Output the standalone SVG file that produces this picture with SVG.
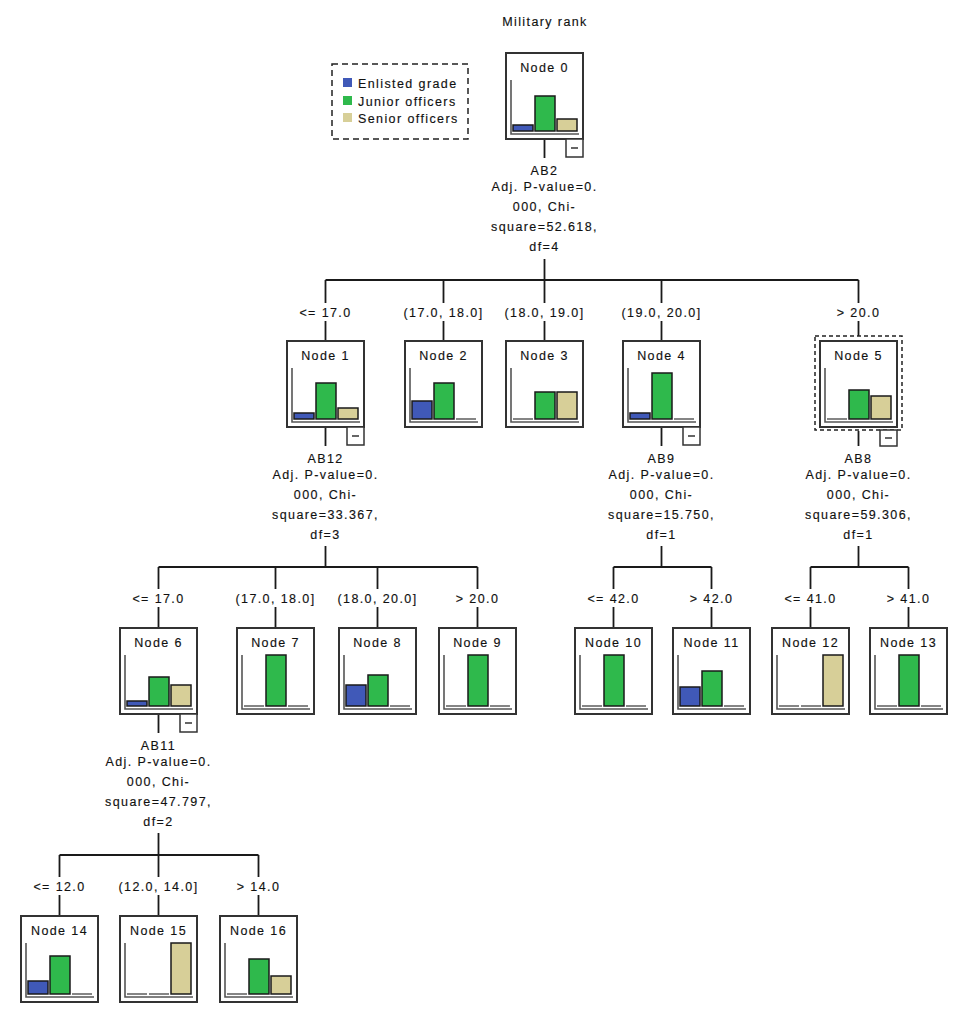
<svg xmlns="http://www.w3.org/2000/svg" width="966" height="1029" viewBox="0 0 966 1029">
<style>
text{font-family:"Liberation Sans",Arial,sans-serif;font-size:12.5px;letter-spacing:1.4px;fill:#111;stroke:#111;stroke-width:0.15;text-anchor:middle}
.l{text-anchor:start}
.box{fill:#fff;stroke:#333;stroke-width:2}
.ax{fill:none;stroke:#555;stroke-width:1.6}
.z{stroke:#666;stroke-width:1.6}
.b{fill:#4059b8;stroke:#1a1a1a;stroke-width:1.5}
.g{fill:#2fb94c;stroke:#1a1a1a;stroke-width:1.5}
.t{fill:#d7cf98;stroke:#1a1a1a;stroke-width:1.5}
.m{fill:#fff;stroke:#333;stroke-width:1.5}
.md{stroke:#333;stroke-width:1.5}
.c{fill:none;stroke:#1a1a1a;stroke-width:1.8}
.sel{fill:none;stroke:#222;stroke-width:1.5;stroke-dasharray:4 3}
</style>
<rect width="966" height="1029" fill="#fff"/>
<text x="545" y="26">Military rank</text>

<g id="legend">
<rect x="332" y="64" width="136" height="75" fill="none" stroke="#222" stroke-width="1.5" stroke-dasharray="6 4"/>
<rect x="343" y="78" width="9" height="9" fill="#4059b8"/>
<rect x="343" y="96" width="9" height="9" fill="#2fb94c"/>
<rect x="343" y="113" width="9" height="9" fill="#d7cf98"/>
<text class="l" x="358" y="87.5">Enlisted grade</text>
<text class="l" x="358" y="105.5">Junior officers</text>
<text class="l" x="358" y="122.5">Senior officers</text>
</g>

<g id="connectors">
<path class="c" d="M544.5 139V158M544.5 259V280M325.5 280H858.5"/>
<path class="c" d="M325.5 280V303M325.5 321V341M443.5 280V303M443.5 321V341M544.5 280V303M544.5 321V341M661.5 280V303M661.5 321V341M858.5 280V303M858.5 321V336"/>
<path class="c" d="M325.5 427V446M325.5 546V567M158.5 567H477.5"/>
<path class="c" d="M158.5 567V589M158.5 607V628M275.5 567V589M275.5 607V628M377.5 567V589M377.5 607V628M477.5 567V589M477.5 607V628"/>
<path class="c" d="M661.5 427V446M661.5 546V567M613.5 567H711.5M613.5 567V589M613.5 607V628M711.5 567V589M711.5 607V628"/>
<path class="c" d="M858.5 431V446M858.5 546V567M810.5 567H908.5M810.5 567V589M810.5 607V628M908.5 567V589M908.5 607V628"/>
<path class="c" d="M158.5 714V733M158.5 833V855M59.5 855H258.5M59.5 855V877M59.5 895V916M158.5 855V877M158.5 895V916M258.5 855V877M258.5 895V916"/>

<text x="544.5" y="174.5">AB2</text>
<text x="544.5" y="190.5">Adj. P-value=0.</text>
<text x="544.5" y="210.5">000, Chi-</text>
<text x="544.5" y="230.5">square=52.618,</text>
<text x="544.5" y="250.5">df=4</text>

<text x="325.5" y="462.5">AB12</text>
<text x="325.5" y="478.5">Adj. P-value=0.</text>
<text x="325.5" y="498.5">000, Chi-</text>
<text x="325.5" y="518.5">square=33.367,</text>
<text x="325.5" y="538.5">df=3</text>

<text x="661.5" y="462.5">AB9</text>
<text x="661.5" y="478.5">Adj. P-value=0.</text>
<text x="661.5" y="498.5">000, Chi-</text>
<text x="661.5" y="518.5">square=15.750,</text>
<text x="661.5" y="538.5">df=1</text>

<text x="858.5" y="462.5">AB8</text>
<text x="858.5" y="478.5">Adj. P-value=0.</text>
<text x="858.5" y="498.5">000, Chi-</text>
<text x="858.5" y="518.5">square=59.306,</text>
<text x="858.5" y="538.5">df=1</text>

<text x="158.5" y="749.5">AB11</text>
<text x="158.5" y="765.5">Adj. P-value=0.</text>
<text x="158.5" y="785.5">000, Chi-</text>
<text x="158.5" y="805.5">square=47.797,</text>
<text x="158.5" y="825.5">df=2</text>

<text x="325.5" y="316.5">&lt;= 17.0</text>
<text x="443.5" y="316.5">(17.0, 18.0]</text>
<text x="544.5" y="316.5">(18.0, 19.0]</text>
<text x="661.5" y="316.5">(19.0, 20.0]</text>
<text x="858.5" y="316.5">&gt; 20.0</text>

<text x="158.5" y="602.5">&lt;= 17.0</text>
<text x="275.5" y="602.5">(17.0, 18.0]</text>
<text x="377.5" y="602.5">(18.0, 20.0]</text>
<text x="477.5" y="602.5">&gt; 20.0</text>
<text x="613.5" y="602.5">&lt;= 42.0</text>
<text x="711.5" y="602.5">&gt; 42.0</text>
<text x="810.5" y="602.5">&lt;= 41.0</text>
<text x="908.5" y="602.5">&gt; 41.0</text>

<text x="59.5" y="890.5">&lt;= 12.0</text>
<text x="158.5" y="890.5">(12.0, 14.0]</text>
<text x="258.5" y="890.5">&gt; 14.0</text>
</g>

<g id="node0">
<rect class="box" x="506" y="53" width="77" height="86"/>
<text x="544.5" y="72">Node 0</text>
<path class="ax" d="M511 80V134H579"/>
<rect class="b" x="513" y="125" width="20" height="6"/>
<rect class="g" x="535" y="96" width="20" height="35"/>
<rect class="t" x="557" y="119" width="20" height="12"/>
<rect class="m" x="566" y="139" width="17" height="18"/>
<line class="md" x1="571" y1="148" x2="578" y2="148"/>
</g>

<g id="node1">
<rect class="box" x="287" y="341" width="77" height="86"/>
<text x="325.5" y="360">Node 1</text>
<path class="ax" d="M292 368V422H360"/>
<rect class="b" x="294" y="413" width="20" height="6"/>
<rect class="g" x="316" y="383" width="20" height="36"/>
<rect class="t" x="338" y="408" width="20" height="11"/>
<rect class="m" x="347" y="427" width="17" height="18"/>
<line class="md" x1="352" y1="436" x2="359" y2="436"/>
</g>

<g id="node2">
<rect class="box" x="405" y="341" width="77" height="86"/>
<text x="443.5" y="360">Node 2</text>
<path class="ax" d="M410 368V422H478"/>
<rect class="b" x="412" y="401" width="20" height="18"/>
<rect class="g" x="434" y="383" width="20" height="36"/>
<line class="z" x1="456" y1="419" x2="476" y2="419"/>
</g>

<g id="node3">
<rect class="box" x="506" y="341" width="77" height="86"/>
<text x="544.5" y="360">Node 3</text>
<path class="ax" d="M511 368V422H579"/>
<line class="z" x1="513" y1="419" x2="533" y2="419"/>
<rect class="g" x="535" y="392" width="20" height="27"/>
<rect class="t" x="557" y="392" width="20" height="27"/>
</g>

<g id="node4">
<rect class="box" x="623" y="341" width="77" height="86"/>
<text x="661.5" y="360">Node 4</text>
<path class="ax" d="M628 368V422H696"/>
<rect class="b" x="630" y="413" width="20" height="6"/>
<rect class="g" x="652" y="373" width="20" height="46"/>
<line class="z" x1="674" y1="419" x2="694" y2="419"/>
<rect class="m" x="683" y="427" width="17" height="18"/>
<line class="md" x1="688" y1="436" x2="695" y2="436"/>
</g>

<g id="node5">
<rect class="box" x="820" y="341" width="77" height="86"/>
<rect class="sel" x="815" y="336" width="87" height="94"/>
<text x="858.5" y="360">Node 5</text>
<path class="ax" d="M825 368V422H893"/>
<line class="z" x1="827" y1="419" x2="847" y2="419"/>
<rect class="g" x="849" y="390" width="20" height="29"/>
<rect class="t" x="871" y="396" width="20" height="23"/>
<rect class="m" x="880" y="430" width="17" height="16"/>
<line class="md" x1="885" y1="438" x2="892" y2="438"/>
</g>

<g id="node6">
<rect class="box" x="120" y="628" width="77" height="86"/>
<text x="158.5" y="647">Node 6</text>
<path class="ax" d="M125 655V709H193"/>
<rect class="b" x="127" y="701" width="20" height="5"/>
<rect class="g" x="149" y="677" width="20" height="29"/>
<rect class="t" x="171" y="685" width="20" height="21"/>
<rect class="m" x="180" y="714" width="17" height="18"/>
<line class="md" x1="185" y1="723" x2="192" y2="723"/>
</g>

<g id="node7">
<rect class="box" x="237" y="628" width="77" height="86"/>
<text x="275.5" y="647">Node 7</text>
<path class="ax" d="M242 655V709H310"/>
<line class="z" x1="244" y1="706" x2="264" y2="706"/>
<rect class="g" x="266" y="655" width="20" height="51"/>
<line class="z" x1="288" y1="706" x2="308" y2="706"/>
</g>

<g id="node8">
<rect class="box" x="339" y="628" width="77" height="86"/>
<text x="377.5" y="647">Node 8</text>
<path class="ax" d="M344 655V709H412"/>
<rect class="b" x="346" y="685" width="20" height="21"/>
<rect class="g" x="368" y="675" width="20" height="31"/>
<line class="z" x1="390" y1="706" x2="410" y2="706"/>
</g>

<g id="node9">
<rect class="box" x="439" y="628" width="77" height="86"/>
<text x="477.5" y="647">Node 9</text>
<path class="ax" d="M444 655V709H512"/>
<line class="z" x1="446" y1="706" x2="466" y2="706"/>
<rect class="g" x="468" y="655" width="20" height="51"/>
<line class="z" x1="490" y1="706" x2="510" y2="706"/>
</g>

<g id="node10">
<rect class="box" x="575" y="628" width="77" height="86"/>
<text x="613.5" y="647">Node 10</text>
<path class="ax" d="M580 655V709H648"/>
<line class="z" x1="582" y1="706" x2="602" y2="706"/>
<rect class="g" x="604" y="655" width="20" height="51"/>
<line class="z" x1="626" y1="706" x2="646" y2="706"/>
</g>

<g id="node11">
<rect class="box" x="673" y="628" width="77" height="86"/>
<text x="711.5" y="647">Node 11</text>
<path class="ax" d="M678 655V709H746"/>
<rect class="b" x="680" y="687" width="20" height="19"/>
<rect class="g" x="702" y="671" width="20" height="35"/>
<line class="z" x1="724" y1="706" x2="744" y2="706"/>
</g>

<g id="node12">
<rect class="box" x="772" y="628" width="77" height="86"/>
<text x="810.5" y="647">Node 12</text>
<path class="ax" d="M777 655V709H845"/>
<line class="z" x1="779" y1="706" x2="799" y2="706"/>
<line class="z" x1="801" y1="706" x2="821" y2="706"/>
<rect class="t" x="823" y="655" width="20" height="51"/>
</g>

<g id="node13">
<rect class="box" x="870" y="628" width="77" height="86"/>
<text x="908.5" y="647">Node 13</text>
<path class="ax" d="M875 655V709H943"/>
<line class="z" x1="877" y1="706" x2="897" y2="706"/>
<rect class="g" x="899" y="655" width="20" height="51"/>
<line class="z" x1="921" y1="706" x2="941" y2="706"/>
</g>

<g id="node14">
<rect class="box" x="21" y="916" width="77" height="86"/>
<text x="59.5" y="935">Node 14</text>
<path class="ax" d="M26 943V997H94"/>
<rect class="b" x="28" y="981" width="20" height="13"/>
<rect class="g" x="50" y="956" width="20" height="38"/>
<line class="z" x1="72" y1="994" x2="92" y2="994"/>
</g>

<g id="node15">
<rect class="box" x="120" y="916" width="77" height="86"/>
<text x="158.5" y="935">Node 15</text>
<path class="ax" d="M125 943V997H193"/>
<line class="z" x1="127" y1="994" x2="147" y2="994"/>
<line class="z" x1="149" y1="994" x2="169" y2="994"/>
<rect class="t" x="171" y="943" width="20" height="51"/>
</g>

<g id="node16">
<rect class="box" x="220" y="916" width="77" height="86"/>
<text x="258.5" y="935">Node 16</text>
<path class="ax" d="M225 943V997H293"/>
<line class="z" x1="227" y1="994" x2="247" y2="994"/>
<rect class="g" x="249" y="959" width="20" height="35"/>
<rect class="t" x="271" y="976" width="20" height="18"/>
</g>
</svg>
